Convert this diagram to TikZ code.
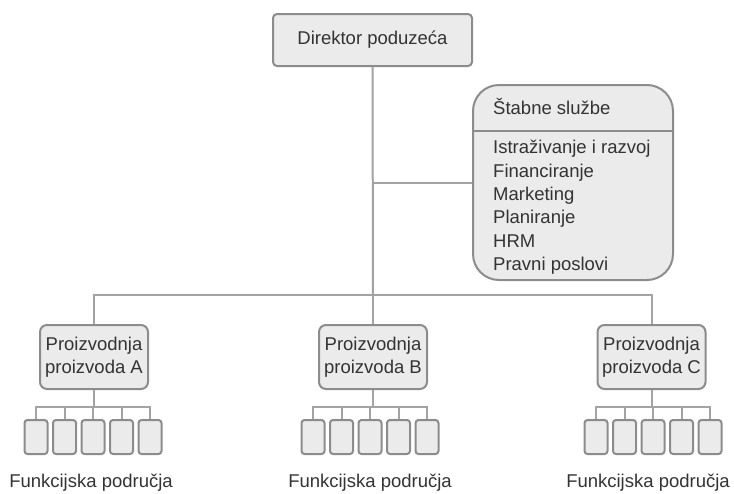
\documentclass[tikz,border=0pt]{standalone}
\usepackage{fontspec}
\setmainfont{Liberation Sans}
\usetikzlibrary{calc}
\definecolor{boxfill}{HTML}{EBEBEB}
\definecolor{boxline}{HTML}{8C8C8C}
\definecolor{conn}{HTML}{A3A3A3}
\definecolor{txt}{HTML}{333333}
\tikzset{
  base/.style={draw=boxline, fill=boxfill, line width=2pt, text=txt, inner sep=0pt},
  topbox/.style={base, rounded corners=4pt, minimum width=199pt, minimum height=52pt},
  prodbox/.style={base, rounded corners=7pt, minimum width=108pt, minimum height=64pt, align=center},
  staffbox/.style={base, rounded corners=26pt, minimum width=200pt, minimum height=195pt},
  fbox/.style={base, rounded corners=3pt, minimum width=23pt, minimum height=34pt},
  lbl/.style={text=txt, inner sep=0pt},
  link/.style={draw=conn, line width=2pt},
}
\begin{document}
\begin{tikzpicture}[x=1pt,y=-1pt,font=\fontsize{18.5}{23.4}\selectfont]
\useasboundingbox (0,0) rectangle (734,493);
% top
\node[topbox] (top) at (372.5,40) {Direktor poduzeća};
% staff
\node[staffbox] (staff) at (573,182.5) {};
\node[lbl, anchor=west] (staffhead) at (493,107) {Štabne službe};
\coordinate (divl) at (473,131);
\coordinate (divr) at (673,131);
\draw[draw=boxline, line width=2pt] (divl) -- (divr);
\node[lbl, anchor=north west, align=left] (staffitems) at (493,140) {Istraživanje i razvoj\\Financiranje\\Marketing\\Planiranje\\HRM\\Pravni poslovi};
% production
\node[prodbox] (A) at (94,357) {Proizvodnja\\proizvoda A};
\node[prodbox] (B) at (373,357) {Proizvodnja\\proizvoda B};
\node[prodbox] (C) at (651.5,357) {Proizvodnja\\proizvoda C};
% main connectors
\coordinate (bus) at (373,295);
\draw[link] (top.south) -- (bus);
\draw[link] (top.south |- staff.west) -- (staff.west);
\draw[link] (A.north) |- (bus) -| (C.north);
\draw[link] (bus) -- (B.north);
% functional areas
\foreach \g/\cx/\lx in {A/93/91,B/370/370,C/653/648} {
  \foreach \i in {1,...,5} {
    \node[fbox] (\g\i) at ({\cx+(\i-3)*28.5},437) {};
  }
  \draw[link] (\g.south) -- ++(0,17) coordinate (\g j);
  \draw[link] (\g1.north) |- (\g j) -| (\g5.north);
  \foreach \i in {2,3,4} {
    \draw[link] (\g\i.north) -- (\g\i.north |- \g j);
  }
  \node[lbl] (\g lab) at (\lx,483) {Funkcijska područja};
}
\end{tikzpicture}
\end{document}
